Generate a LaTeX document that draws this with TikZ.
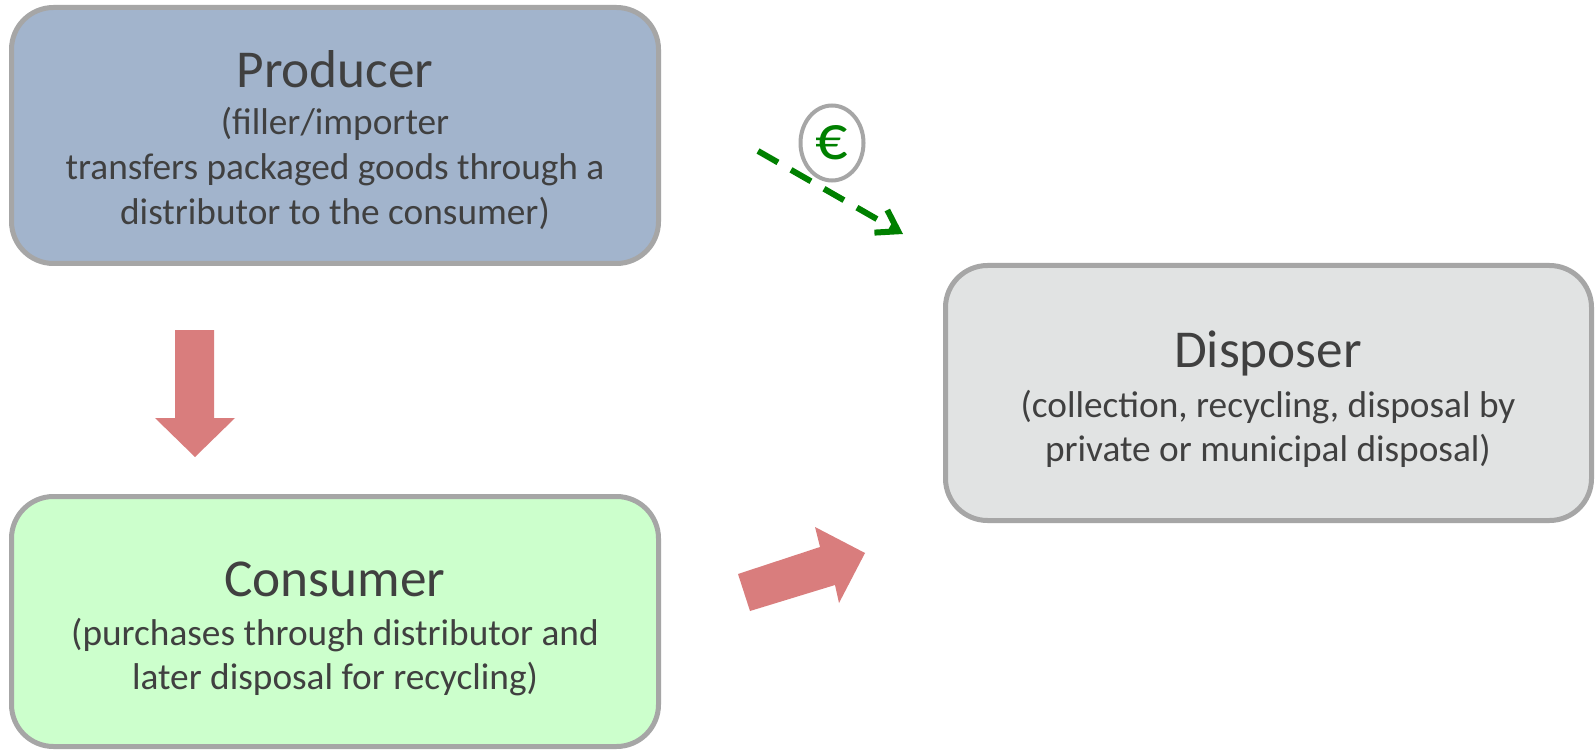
\documentclass[tikz,border=0pt]{standalone}
\usepackage{fontspec}
\setmainfont{Carlito}
\usetikzlibrary{arrows.meta,shapes.geometric}
\definecolor{prodfill}{HTML}{A2B4CC}
\definecolor{consfill}{HTML}{CCFFCC}
\definecolor{dispfill}{HTML}{E1E3E3}
\definecolor{boxline}{HTML}{A6A6A6}
\definecolor{flowred}{HTML}{D97D7D}
\definecolor{moneygreen}{HTML}{008000}
\definecolor{txt}{HTML}{404040}
\begin{document}
\begin{tikzpicture}[x=1pt,y=-1pt,
  box/.style={draw=boxline, line width=5pt, rounded corners=42pt, inner sep=0pt},
  title/.style={text=txt, font=\fontsize{53.3}{64}\selectfont, inner sep=0pt, anchor=base},
  sub/.style={text=txt, font=\fontsize{37.3}{45}\selectfont, inner sep=0pt, anchor=base},
  blockarrow/.style={fill=flowred, draw=none},
  money/.style={draw=moneygreen, line width=6pt, dash pattern=on 23pt off 15pt,
    -{Straight Barb[length=20pt, width=26pt, line width=6pt]}}]
\useasboundingbox (0,0) rectangle (1595,751);
\fill[white] (0,0) rectangle (1595,751);

% the three parties
\node[box, fill=prodfill, minimum width=647, minimum height=256] (producer) at (335,135.5) {};
\node[box, fill=consfill, minimum width=647, minimum height=250] (consumer) at (335,621.5) {};
\node[box, fill=dispfill, minimum width=646, minimum height=255] (disposer) at (1268.5,393) {};

% producer text
\node[title] (ptitle) at (335,88) {Producer};
\node[sub] (p1) at (335,135) {(filler/importer};
\node[sub] (p2) at (335,180) {transfers packaged goods through a};
\node[sub] (p3) at (335,225) {distributor to the consumer)};

% consumer text
\node[title] (ctitle) at (335,596) {Consumer};
\node[sub] (c1) at (335,645) {(purchases through distributor and};
\node[sub] (c2) at (335,689) {later disposal for recycling)};

% disposer text
\node[title] (dtitle) at (1268,367) {Disposer};
\node[sub] (d1) at (1268,417) {(collection, recycling, disposal by};
\node[sub] (d2) at (1268,461) {private or municipal disposal)};

% goods flow: producer down to consumer
\fill[blockarrow] (175,330) -- (214,330) -- (214,418) -- (235,418) -- (195,457)
  -- (155,418) -- (175,418) -- cycle;
% packaging flow: consumer to disposer
\fill[blockarrow] (738,574) -- (820,547) -- (815,527) -- (865,553) -- (839,603)
  -- (835,585) -- (750,611) -- cycle;

% licence fee payment
\node[ellipse, draw=boxline, line width=4pt, minimum width=63, minimum height=75,
  inner sep=0pt, text=moneygreen, font=\fontsize{64}{72}\selectfont] (euro) at (832,143) {€};
\coordinate (feestart) at (758,151);
\coordinate (feeend) at (903,234);
\draw[money] (feestart) -- (feeend);
\end{tikzpicture}
\end{document}
